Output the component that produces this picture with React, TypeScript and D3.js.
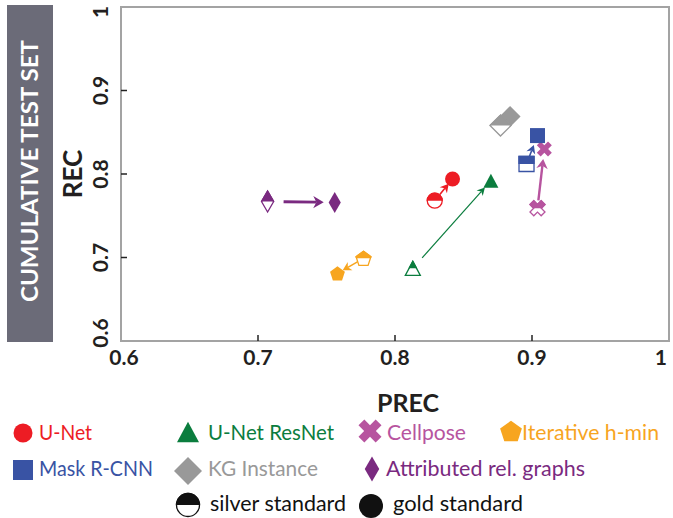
import React from 'react';
import * as d3 from 'd3';

// values (precision / recall, silver -> gold)
const methods = ['U-Net', 'U-Net ResNet', 'Cellpose', 'Iterative h-min', 'Mask R-CNN', 'KG Instance', 'Attributed rel. graphs'];
const silverPrec = [0.829, 0.813, 0.904, 0.777, 0.896, 0.877, 0.707];
const silverRec = [0.768, 0.687, 0.759, 0.699, 0.812, 0.858, 0.767];
const goldPrec = [0.842, 0.870, 0.909, 0.758, 0.904, 0.884, 0.756];
const goldRec = [0.794, 0.792, 0.830, 0.681, 0.846, 0.869, 0.766];

const tickValues = [0.6, 0.7, 0.8, 0.9, 1.0];
const tickLabels = ['0.6', '0.7', '0.8', '0.9', '1'];

const colors = ['#ed1c24', '#0b7d3e', '#b7549f', '#f7a51f', '#3953a4', '#999999', '#7a2a80'];
const shapes = ['circle', 'triangle', 'cross', 'pentagon', 'square', 'diamond', 'thinDiamond'];
const arrowWidth = [1.6, 1.2, 2.4, 1.6, 1.6, 0, 2.8];
const startGap = [8, 14, 8, 7, 8, 0, 16];
const endGap = [6, 9, 10, 6, 10, 0, 11];

// legend layout: [iconX, iconY, textX, baseline, textWidth]
const legendPos = [
  [23, 433, 39, 440, 53],
  [188, 432, 208, 440, 126],
  [370, 431, 387, 440, 79],
  [511, 431, 522, 440, 137],
  [23, 470, 39, 476, 114],
  [188, 471, 208, 476, 110],
  [372, 469, 386, 476, 199],
];

const W = 673;
const H = 518;
const FONT = "'Myriad Pro', Lato, 'Open Sans', sans-serif";

function shapePath(shape: string, s: number) {
  // s = half extent of bounding box
  if (shape === 'circle') {
    return `M${s},0A${s},${s} 0 1 1 ${-s},0A${s},${s} 0 1 1 ${s},0Z`;
  }
  if (shape === 'square') {
    return `M${-s},${-s}H${s}V${s}H${-s}Z`;
  }
  if (shape === 'triangle') {
    const h = s * 0.93;
    return `M0,${-h}L${s},${h}L${-s},${h}Z`;
  }
  if (shape === 'diamond') {
    return `M0,${-s}L${s},0L0,${s}L${-s},0Z`;
  }
  if (shape === 'thinDiamond') {
    return `M0,${-s}L${s * 0.58},0L0,${s}L${-s * 0.58},0Z`;
  }
  if (shape === 'pentagon') {
    const pts = d3.range(5).map((k) => {
      const a = (-90 + 72 * k) * Math.PI / 180;
      return [s * 1.04 * Math.cos(a), s * 1.04 * Math.sin(a) + s * 0.1];
    });
    return 'M' + pts.map((p) => p.join(',')).join('L') + 'Z';
  }
  // thick X
  const w = s * 0.36;
  const L = s * Math.SQRT2 - w;
  const plus = [[w, -L], [w, -w], [L, -w], [L, w], [w, w], [w, L], [-w, L], [-w, w], [-L, w], [-L, -w], [-w, -w], [-w, -L]];
  const c = Math.SQRT1_2;
  const pts = plus.map(([px, py]) => [c * (px - py), c * (px + py)]);
  return 'M' + pts.map((p) => p.join(',')).join('L') + 'Z';
}

function markerSize(shape: string) {
  if (shape === 'diamond') return 10.5;
  if (shape === 'thinDiamond') return 10.5;
  return 7.5;
}

function legendSize(shape: string) {
  if (shape === 'diamond') return 14;
  if (shape === 'thinDiamond') return 12.5;
  if (shape === 'circle') return 9.5;
  if (shape === 'square') return 10;
  if (shape === 'cross') return 11.5;
  return 11;
}

const Marker = ({ shape, s, color, silver }: any) => {
  const d = shapePath(shape, s);
  if (!silver) return <path d={d} fill={color} />;
  return (
    <g>
      <path d={d} fill="white" stroke={color} strokeWidth={1.3} />
      <path d={d} fill={color} stroke={color} strokeWidth={1.3} clipPath="url(#tophalf)" />
    </g>
  );
};

function Arrow({ x1, y1, x2, y2, color, width, g1, g2 }: any) {
  const dx = x2 - x1;
  const dy = y2 - y1;
  const len = Math.hypot(dx, dy);
  const ux = dx / len;
  const uy = dy / len;
  const sx = x1 + ux * g1;
  const sy = y1 + uy * g1;
  const ex = x2 - ux * g2;
  const ey = y2 - uy * g2;
  const hl = 6 + 1.6 * width;
  const hw = 2.6 + 1.3 * width;
  const nx = -uy;
  const ny = ux;
  const bx = ex - ux * hl;
  const by = ey - uy * hl;
  const notchX = ex - ux * hl * 0.7;
  const notchY = ey - uy * hl * 0.7;
  const head = `M${ex},${ey}L${bx + nx * hw},${by + ny * hw}L${notchX},${notchY}L${bx - nx * hw},${by - ny * hw}Z`;
  return (
    <g>
      <line x1={sx} y1={sy} x2={notchX} y2={notchY} stroke={color} strokeWidth={width} />
      <path d={head} fill={color} />
    </g>
  );
}

export default function App() {
  const x = d3.scaleLinear().domain([0.6, 1]).range([121, 669]);
  const y = d3.scaleLinear().domain([0.6, 1]).range([341, 7]);

  const order = [5, 0, 1, 2, 3, 4, 6];

  return (
    <svg width={W} height={H} style={{ position: 'absolute', left: 0, top: 0, background: 'white' }} fontFamily={FONT}>
      <defs>
        <clipPath id="tophalf">
          <rect x={-40} y={-40} width={80} height={40} />
        </clipPath>
      </defs>

      {/* side banner */}
      <rect x={7} y={5} width={46} height={337} fill="#6b6b78" />
      <text
        transform="translate(38,171) rotate(-90)"
        textAnchor="middle"
        fill="white"
        fontWeight="bold"
        fontSize={23}
        textLength={262}
        lengthAdjust="spacingAndGlyphs"
      >CUMULATIVE TEST SET</text>

      {/* frame */}
      <rect x={121} y={7} width={548} height={334} fill="none" stroke="#a3a3a3" strokeWidth={2} />
      {tickValues.slice(1, 4).map((t) => (
        <g key={'t' + t}>
          <line x1={x(t)} x2={x(t)} y1={341} y2={335} stroke="#222" strokeWidth={1.5} />
          <line x1={121} x2={127} y1={y(t)} y2={y(t)} stroke="#222" strokeWidth={1.5} />
        </g>
      ))}

      {/* tick labels */}
      {tickValues.map((t, i) => {
        const last = i === tickValues.length - 1;
        const xx = i === 0 ? x(t) + 3 : last ? 667 : x(t);
        return (
          <text key={'xl' + t} x={xx} y={365} textAnchor={last ? 'end' : 'middle'} fontWeight="bold" fontSize={21} fill="#231f20">
            {tickLabels[i]}
          </text>
        );
      })}
      {tickValues.map((t, i) => {
        const yy = i === 0 ? y(t) - 8 : i === tickValues.length - 1 ? y(t) + 5 : y(t);
        return (
          <text key={'yl' + t} transform={`translate(108,${yy}) rotate(-90)`} textAnchor="middle" fontWeight="bold" fontSize={21} fill="#231f20">
            {tickLabels[i]}
          </text>
        );
      })}

      {/* axis titles */}
      <text x={408} y={412} textAnchor="middle" fontWeight="bold" fontSize={25} fill="#231f20">PREC</text>
      <text transform="translate(82,174) rotate(-90)" textAnchor="middle" fontWeight="bold" fontSize={26} fill="#231f20">REC</text>

      {/* arrows */}
      {methods.map((m, i) =>
        arrowWidth[i] > 0 ? (
          <Arrow
            key={'a' + m}
            x1={x(silverPrec[i])}
            y1={y(silverRec[i])}
            x2={x(goldPrec[i])}
            y2={y(goldRec[i])}
            color={colors[i]}
            width={arrowWidth[i]}
            g1={startGap[i]}
            g2={endGap[i]}
          />
        ) : null
      )}

      {/* points */}
      {order.map((i) => (
        <g key={'p' + methods[i]}>
          <g transform={`translate(${x(goldPrec[i])},${y(goldRec[i])})`}>
            <Marker shape={shapes[i]} s={markerSize(shapes[i])} color={colors[i]} />
          </g>
          <g transform={`translate(${x(silverPrec[i])},${y(silverRec[i])})`}>
            <Marker shape={shapes[i]} s={markerSize(shapes[i])} color={colors[i]} silver />
          </g>
        </g>
      ))}

      {/* legend */}
      {methods.map((m, i) => {
        const [ix, iy, tx, ty, tw] = legendPos[i];
        return (
          <g key={'l' + m}>
            <g transform={`translate(${ix},${iy})`}>
              <Marker shape={shapes[i]} s={legendSize(shapes[i])} color={colors[i]} />
            </g>
            <text x={tx} y={ty} fill={colors[i]} fontSize={21} textLength={tw} lengthAdjust="spacingAndGlyphs">{m}</text>
          </g>
        );
      })}
      <g transform="translate(188,505)">
        <Marker shape="circle" s={11.5} color="#111" silver />
      </g>
      <text x={210} y={511} fill="#111" fontSize={21} textLength={136} lengthAdjust="spacingAndGlyphs">silver standard</text>
      <g transform="translate(371,506)">
        <Marker shape="circle" s={12} color="#111" />
      </g>
      <text x={393} y={511} fill="#111" fontSize={21} textLength={130} lengthAdjust="spacingAndGlyphs">gold standard</text>
    </svg>
  );
}
